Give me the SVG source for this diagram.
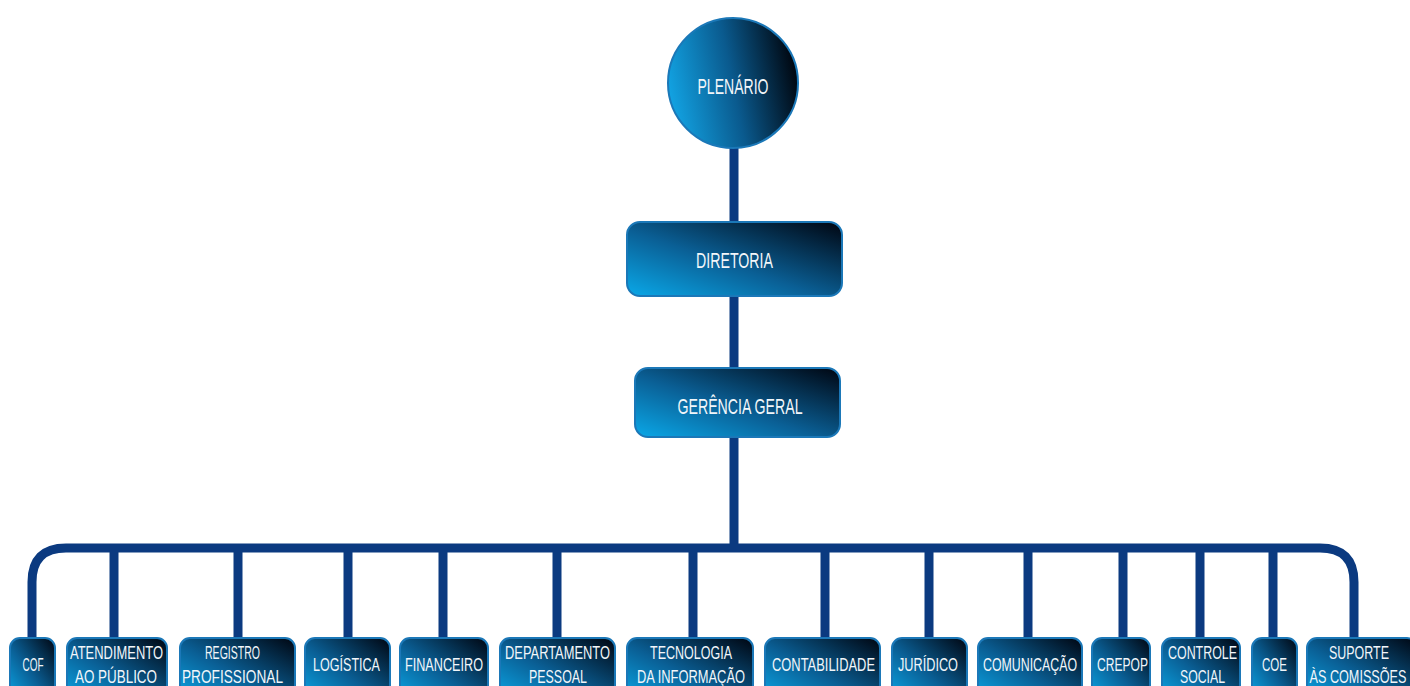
<svg xmlns="http://www.w3.org/2000/svg" width="1410" height="686" viewBox="0 0 1410 686">
<defs>
<linearGradient id="gBox" x1="0" y1="1" x2="1" y2="0">
<stop offset="0" stop-color="#0aa8e8"/>
<stop offset="0.45" stop-color="#0a5f95"/>
<stop offset="1" stop-color="#000510"/>
</linearGradient>
<linearGradient id="gCirc" x1="0" y1="0.6" x2="1" y2="0.4">
<stop offset="0" stop-color="#12a4e4"/>
<stop offset="0.5" stop-color="#0a5a8e"/>
<stop offset="1" stop-color="#00040c"/>
</linearGradient>
<style>
.box{fill:url(#gBox);stroke:#1b78b8;stroke-width:2}
.circ{fill:url(#gCirc);stroke:#1b78b8;stroke-width:2}
.con{fill:none;stroke:#0b3a80;stroke-width:9}
.t{font-family:"Liberation Sans",Arial,sans-serif;fill:#f2f6fa;text-anchor:middle}
.big{font-size:22px}
.sm{font-size:18.5px}
</style>
</defs>
<rect width="1410" height="686" fill="#ffffff"/>
<g id="connectors">
<path class="con" d="M734,148 V222 M734,296 V368 M734,437 V548"/>
<path class="con" d="M32,640 V582 Q32,548 66,548 H1320 Q1354,548 1354,582 V640"/>
<path class="con" d="M114,548 V640 M238,548 V640 M348,548 V640 M443,548 V640 M557,548 V640 M693,548 V640 M825,548 V640 M929,548 V640 M1028,548 V640 M1123,548 V640 M1200,548 V640 M1273,548 V640"/>
</g>
<g id="plenario">
<circle class="circ" cx="733" cy="83" r="65"/>
<text class="t big" x="733" y="94" textLength="71" lengthAdjust="spacingAndGlyphs">PLENÁRIO</text>
</g>
<g id="diretoria">
<rect class="box" x="627" y="222" width="215" height="74" rx="13"/>
<text class="t big" x="734.5" y="268" textLength="77" lengthAdjust="spacingAndGlyphs">DIRETORIA</text>
</g>
<g id="gerencia">
<rect class="box" x="635" y="368" width="205" height="69" rx="13"/>
<text class="t big" x="740" y="414" textLength="125" lengthAdjust="spacingAndGlyphs">GERÊNCIA GERAL</text>
</g>
<g id="cof">
<rect class="box" x="10" y="638" width="45" height="64" rx="10"/>
<text class="t sm" x="33" y="671" textLength="21" lengthAdjust="spacingAndGlyphs">COF</text>
</g>
<g id="atendimento">
<rect class="box" x="67" y="638" width="100" height="64" rx="10"/>
<text class="t sm" x="116.5" y="659" textLength="93" lengthAdjust="spacingAndGlyphs">ATENDIMENTO</text>
<text class="t sm" x="116" y="683" textLength="82" lengthAdjust="spacingAndGlyphs">AO PÚBLICO</text>
</g>
<g id="registro">
<rect class="box" x="180" y="638" width="115" height="64" rx="10"/>
<text class="t sm" x="232.5" y="659" textLength="55" lengthAdjust="spacingAndGlyphs">REGISTRO</text>
<text class="t sm" x="232.5" y="683" textLength="101" lengthAdjust="spacingAndGlyphs">PROFISSIONAL</text>
</g>
<g id="logistica">
<rect class="box" x="305" y="638" width="85" height="64" rx="10"/>
<text class="t sm" x="346.5" y="671" textLength="67" lengthAdjust="spacingAndGlyphs">LOGÍSTICA</text>
</g>
<g id="financeiro">
<rect class="box" x="400" y="638" width="88" height="64" rx="10"/>
<text class="t sm" x="444" y="671" textLength="78" lengthAdjust="spacingAndGlyphs">FINANCEIRO</text>
</g>
<g id="departamento">
<rect class="box" x="500" y="638" width="115" height="64" rx="10"/>
<text class="t sm" x="557.5" y="659" textLength="105" lengthAdjust="spacingAndGlyphs">DEPARTAMENTO</text>
<text class="t sm" x="558" y="683" textLength="58" lengthAdjust="spacingAndGlyphs">PESSOAL</text>
</g>
<g id="tecnologia">
<rect class="box" x="627" y="638" width="126" height="64" rx="10"/>
<text class="t sm" x="691" y="659" textLength="82" lengthAdjust="spacingAndGlyphs">TECNOLOGIA</text>
<text class="t sm" x="691" y="683" textLength="108" lengthAdjust="spacingAndGlyphs">DA INFORMAÇÃO</text>
</g>
<g id="contabilidade">
<rect class="box" x="765" y="638" width="115" height="64" rx="10"/>
<text class="t sm" x="823.5" y="671" textLength="103" lengthAdjust="spacingAndGlyphs">CONTABILIDADE</text>
</g>
<g id="juridico">
<rect class="box" x="892" y="638" width="75" height="64" rx="10"/>
<text class="t sm" x="928" y="671" textLength="60" lengthAdjust="spacingAndGlyphs">JURÍDICO</text>
</g>
<g id="comunicacao">
<rect class="box" x="978" y="638" width="104" height="64" rx="10"/>
<text class="t sm" x="1030" y="671" textLength="94" lengthAdjust="spacingAndGlyphs">COMUNICAÇÃO</text>
</g>
<g id="crepop">
<rect class="box" x="1092" y="638" width="58" height="64" rx="10"/>
<text class="t sm" x="1122.5" y="671" textLength="51" lengthAdjust="spacingAndGlyphs">CREPOP</text>
</g>
<g id="controle">
<rect class="box" x="1162" y="638" width="78" height="64" rx="10"/>
<text class="t sm" x="1202.5" y="659" textLength="69" lengthAdjust="spacingAndGlyphs">CONTROLE</text>
<text class="t sm" x="1202.5" y="683" textLength="45" lengthAdjust="spacingAndGlyphs">SOCIAL</text>
</g>
<g id="coe">
<rect class="box" x="1252" y="638" width="45" height="64" rx="10"/>
<text class="t sm" x="1274.5" y="671" textLength="25" lengthAdjust="spacingAndGlyphs">COE</text>
</g>
<g id="suporte">
<rect class="box" x="1307" y="638" width="110" height="64" rx="10"/>
<text class="t sm" x="1359" y="659" textLength="60" lengthAdjust="spacingAndGlyphs">SUPORTE</text>
<text class="t sm" x="1358" y="683" textLength="97" lengthAdjust="spacingAndGlyphs">ÀS COMISSÕES</text>
</g>
</svg>
